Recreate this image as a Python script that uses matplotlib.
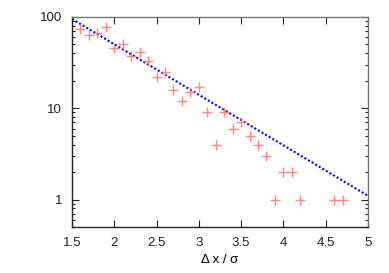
import matplotlib
matplotlib.use("Agg")
import matplotlib.pyplot as plt
from matplotlib.ticker import FixedLocator, LogLocator, NullFormatter

plt.rcParams["font.family"] = ["Liberation Sans", "DejaVu Sans"]

# Data
dx = [1.6, 1.7, 1.8, 1.9, 2.0, 2.1, 2.2, 2.3, 2.4, 2.5, 2.6, 2.7, 2.8, 2.9,
      3.0, 3.1, 3.2, 3.3, 3.4, 3.5, 3.6, 3.7, 3.8, 3.9, 4.0, 4.1, 4.2, 4.6, 4.7]
counts = [74, 64, 66, 78, 46, 50, 37, 41, 33, 22, 25, 16, 12, 15,
          17, 9, 4, 9, 6, 7, 5, 4, 3, 1, 2, 2, 1, 1, 1]

# fitted exponential, given by its end points
fit_x = [1.5, 5.0]
fit_y = [95.0, 1.1]

x_ticks = [1.5, 2, 2.5, 3, 3.5, 4, 4.5, 5]
x_labels = ["1.5", "2", "2.5", "3", "3.5", "4", "4.5", "5"]
y_ticks = [1, 10, 100]
y_labels = ["1", "10", "100"]

fig = plt.figure(figsize=(3.89, 2.73), dpi=100)
ax = fig.add_axes([0.185, 0.168, 0.761, 0.770])

ax.plot(fit_x, fit_y, linestyle=(0, (1, 1)), color="#0000ff", linewidth=1.5)
ax.plot(dx, counts, linestyle="none", marker="+", markersize=7,
        markeredgewidth=1.0, color="#ff7070", alpha=0.85)

ax.set_yscale("log")
ax.set_xlim(1.5, 5)
ax.set_ylim(0.5, 100)

ax.xaxis.set_major_locator(FixedLocator(x_ticks))
ax.set_xticklabels(x_labels)
ax.yaxis.set_major_locator(FixedLocator(y_ticks))
ax.set_yticklabels(y_labels)
ax.yaxis.set_minor_locator(LogLocator(base=10, subs=range(2, 10)))
ax.yaxis.set_minor_formatter(NullFormatter())

ax.tick_params(which="both", direction="in", top=True, right=True,
               labelsize=9.5, colors="#222222", width=0.8)
ax.tick_params(which="major", length=5, pad=7)
ax.tick_params(which="minor", length=2.5)

for side in ["left", "bottom"]:
    ax.spines[side].set_color("#222222")
for side in ["top", "right"]:
    ax.spines[side].set_color("#777777")
for s in ax.spines.values():
    s.set_linewidth(1.0)

ax.set_xlabel("\u0394 x / \u03c3", fontsize=9.5, labelpad=4)

fig.savefig("out.png", dpi=100)
